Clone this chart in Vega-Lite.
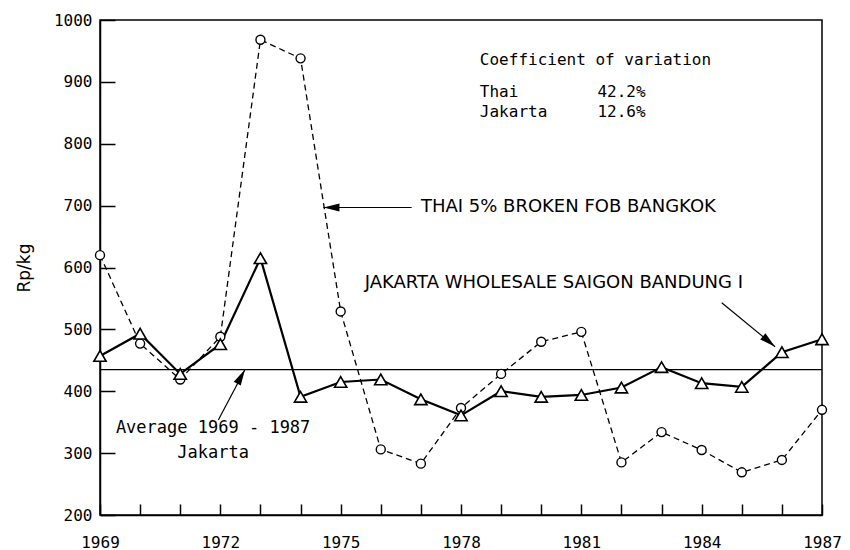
{
  "$schema": "https://vega.github.io/schema/vega-lite/v6.json",
  "width": 722,
  "height": 495,
  "autosize": "none",
  "padding": {"left": 100, "right": 28, "top": 20, "bottom": 35},
  "background": "white",
  "config": {
    "view": {"stroke": "black", "strokeWidth": 1.5},
    "font": "DejaVu Sans",
    "axis": {"domainColor": "black", "tickColor": "black", "labelColor": "black", "titleColor": "black", "grid": false, "labelFont": "DejaVu Sans Mono", "titleFont": "DejaVu Sans", "labelFontSize": 16, "titleFontSize": 17, "titleFontWeight": "normal", "domainWidth": 1.5, "tickWidth": 1.5}
  },
  "datasets": {
    "prices": [
      {"year": 1969, "series": "Thai", "value": 620},
      {"year": 1970, "series": "Thai", "value": 477},
      {"year": 1971, "series": "Thai", "value": 419},
      {"year": 1972, "series": "Thai", "value": 488},
      {"year": 1973, "series": "Thai", "value": 968},
      {"year": 1974, "series": "Thai", "value": 938},
      {"year": 1975, "series": "Thai", "value": 529},
      {"year": 1976, "series": "Thai", "value": 306},
      {"year": 1977, "series": "Thai", "value": 283},
      {"year": 1978, "series": "Thai", "value": 373},
      {"year": 1979, "series": "Thai", "value": 428},
      {"year": 1980, "series": "Thai", "value": 480},
      {"year": 1981, "series": "Thai", "value": 496},
      {"year": 1982, "series": "Thai", "value": 285},
      {"year": 1983, "series": "Thai", "value": 334},
      {"year": 1984, "series": "Thai", "value": 305},
      {"year": 1985, "series": "Thai", "value": 269},
      {"year": 1986, "series": "Thai", "value": 289},
      {"year": 1987, "series": "Thai", "value": 370},
      {"year": 1969, "series": "Jakarta", "value": 457},
      {"year": 1970, "series": "Jakarta", "value": 493},
      {"year": 1971, "series": "Jakarta", "value": 428},
      {"year": 1972, "series": "Jakarta", "value": 476},
      {"year": 1973, "series": "Jakarta", "value": 615},
      {"year": 1974, "series": "Jakarta", "value": 391},
      {"year": 1975, "series": "Jakarta", "value": 415},
      {"year": 1976, "series": "Jakarta", "value": 419},
      {"year": 1977, "series": "Jakarta", "value": 387},
      {"year": 1978, "series": "Jakarta", "value": 361},
      {"year": 1979, "series": "Jakarta", "value": 400},
      {"year": 1980, "series": "Jakarta", "value": 391},
      {"year": 1981, "series": "Jakarta", "value": 394},
      {"year": 1982, "series": "Jakarta", "value": 406},
      {"year": 1983, "series": "Jakarta", "value": 439},
      {"year": 1984, "series": "Jakarta", "value": 413},
      {"year": 1985, "series": "Jakarta", "value": 407},
      {"year": 1986, "series": "Jakarta", "value": 463},
      {"year": 1987, "series": "Jakarta", "value": 484}
    ],
    "average": [{"label": "Average 1969 - 1987 Jakarta", "value": 435}],
    "arrows": [
      {"id": "thai", "x": 1976.77, "y": 697, "x2": 1974.57, "y2": 697},
      {"id": "jakarta", "x": 1984.5, "y": 543, "x2": 1985.83, "y2": 472},
      {"id": "average", "x": 1971.95, "y": 353.5, "x2": 1972.615, "y2": 435}
    ],
    "notesMono": [
      {"x": 1978.47, "y": 935, "text": "Coefficient of variation"},
      {"x": 1978.47, "y": 884, "text": "Thai"},
      {"x": 1978.47, "y": 852, "text": "Jakarta"},
      {"x": 1981.4, "y": 884, "text": "42.2%"},
      {"x": 1981.4, "y": 852, "text": "12.6%"}
    ],
    "notesCaps": [
      {"x": 1977.0, "y": 697, "text": "THAI 5% BROKEN FOB BANGKOK"},
      {"x": 1975.6, "y": 575, "text": "JAKARTA WHOLESALE SAIGON BANDUNG I"}
    ],
    "notesCenter": [
      {"x": 1971.82, "y": 341, "text": "Average 1969 - 1987"},
      {"x": 1971.82, "y": 301, "text": "Jakarta"}
    ]
  },
  "layer": [
    {
      "data": {"name": "prices"},
      "transform": [{"filter": "datum.series === 'Thai'"}],
      "mark": {"type": "line", "color": "black", "strokeWidth": 1.3, "strokeDash": [6, 4]},
      "encoding": {
        "x": {"field": "year", "type": "quantitative", "scale": {"domain": [1969, 1987], "nice": false, "zero": false},
          "axis": {"title": null, "values": [1969,1970,1971,1972,1973,1974,1975,1976,1977,1978,1979,1980,1981,1982,1983,1984,1985,1986,1987], "format": "d", "labelExpr": "(datum.value - 1969) % 3 === 0 ? datum.label : ''", "tickSize": -11, "labelPadding": 30, "labelFlush": false, "labelOverlap": false}},
        "y": {"field": "value", "type": "quantitative", "scale": {"domain": [200, 1000], "nice": false, "zero": false},
          "axis": {"title": "Rp/kg", "format": "d", "values": [200,300,400,500,600,700,800,900,1000], "tickSize": -15, "labelPadding": 23, "titleX": -76, "titleAngle": -90, "titleBaseline": "middle", "titleAlign": "center"}}
      }
    },
    {
      "data": {"name": "prices"},
      "transform": [{"filter": "datum.series === 'Jakarta'"}],
      "mark": {"type": "line", "color": "black", "strokeWidth": 2.2},
      "encoding": {
        "x": {"field": "year", "type": "quantitative"},
        "y": {"field": "value", "type": "quantitative"}
      }
    },
    {
      "data": {"name": "average"},
      "mark": {"type": "rule", "color": "black", "strokeWidth": 1.2},
      "encoding": {"y": {"field": "value", "type": "quantitative"}}
    },
    {
      "data": {"name": "prices"},
      "transform": [{"filter": "datum.series === 'Thai'"}],
      "mark": {"type": "point", "shape": "circle", "filled": true, "fill": "white", "stroke": "black", "strokeWidth": 1.4, "size": 81, "opacity": 1},
      "encoding": {
        "x": {"field": "year", "type": "quantitative"},
        "y": {"field": "value", "type": "quantitative"}
      }
    },
    {
      "data": {"name": "prices"},
      "transform": [{"filter": "datum.series === 'Jakarta'"}],
      "mark": {"type": "point", "shape": "triangle-up", "filled": true, "fill": "white", "stroke": "black", "strokeWidth": 1.6, "size": 150, "opacity": 1},
      "encoding": {
        "x": {"field": "year", "type": "quantitative"},
        "y": {"field": "value", "type": "quantitative"}
      }
    },
    {
      "data": {"name": "arrows"},
      "mark": {"type": "rule", "color": "black", "strokeWidth": 1.2},
      "encoding": {
        "x": {"field": "x", "type": "quantitative"},
        "y": {"field": "y", "type": "quantitative"},
        "x2": {"field": "x2"},
        "y2": {"field": "y2"}
      }
    },
    {
      "data": {"name": "arrows"},
      "transform": [{"filter": "datum.id === 'thai'"}],
      "mark": {"type": "point", "shape": "M0,0L-1,4L1,4Z", "filled": true, "color": "black", "size": 64, "angle": 270, "opacity": 1},
      "encoding": {"x": {"field": "x2", "type": "quantitative"}, "y": {"field": "y2", "type": "quantitative"}}
    },
    {
      "data": {"name": "arrows"},
      "transform": [{"filter": "datum.id === 'jakarta'"}],
      "mark": {"type": "point", "shape": "M0,0L-1,4L1,4Z", "filled": true, "color": "black", "size": 64, "angle": 130, "opacity": 1},
      "encoding": {"x": {"field": "x2", "type": "quantitative"}, "y": {"field": "y2", "type": "quantitative"}}
    },
    {
      "data": {"name": "arrows"},
      "transform": [{"filter": "datum.id === 'average'"}],
      "mark": {"type": "point", "shape": "M0,0L-1,4L1,4Z", "filled": true, "color": "black", "size": 64, "angle": 29, "opacity": 1},
      "encoding": {"x": {"field": "x2", "type": "quantitative"}, "y": {"field": "y2", "type": "quantitative"}}
    },
    {
      "data": {"name": "notesMono"},
      "mark": {"type": "text", "align": "left", "baseline": "middle", "fontSize": 16, "color": "black", "font": "DejaVu Sans Mono"},
      "encoding": {
        "x": {"field": "x", "type": "quantitative"},
        "y": {"field": "y", "type": "quantitative"},
        "text": {"field": "text"}
      }
    },
    {
      "data": {"name": "notesCaps"},
      "mark": {"type": "text", "align": "left", "baseline": "middle", "fontSize": 18, "color": "black", "font": "DejaVu Sans"},
      "encoding": {
        "x": {"field": "x", "type": "quantitative"},
        "y": {"field": "y", "type": "quantitative"},
        "text": {"field": "text"}
      }
    },
    {
      "data": {"name": "notesCenter"},
      "mark": {"type": "text", "align": "center", "baseline": "middle", "fontSize": 17, "color": "black", "font": "DejaVu Sans Mono"},
      "encoding": {
        "x": {"field": "x", "type": "quantitative"},
        "y": {"field": "y", "type": "quantitative"},
        "text": {"field": "text"}
      }
    }
  ]
}
